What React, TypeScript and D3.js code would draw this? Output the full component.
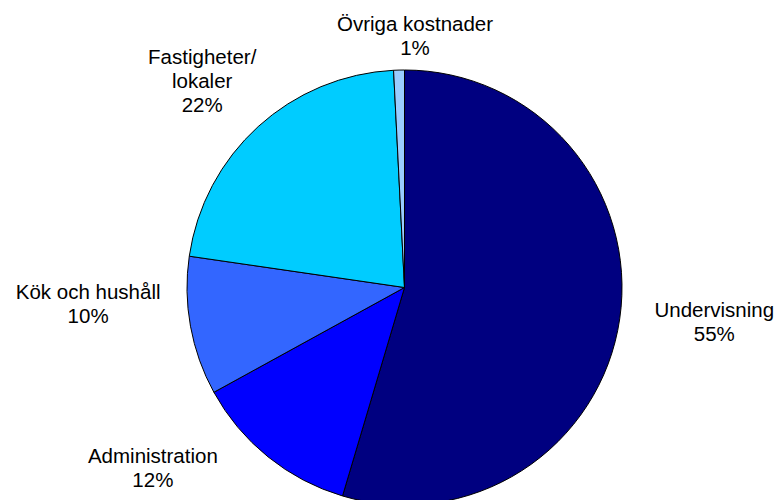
import { useEffect, useRef } from 'react';
import * as d3 from 'd3';

const categories = ['Undervisning', 'Administration', 'Kök och hushåll', 'Fastigheter/\nlokaler', 'Övriga kostnader'];
const shares = [54.6, 12.4, 10.3, 21.9, 0.8];
const sliceColors = ['#000080', '#0000ff', '#3366ff', '#00ccff', '#99ccff'];
// Excel's label boxes don't sit exactly on the mid-angle, nudge them a bit
const labelNudge: [number, number][] = [[55, -3], [-90, -20], [-63, -30], [-29, -16], [17, 6]];

const WIDTH = 779;
const HEIGHT = 500;

export default function App() {
  const svgRef = useRef<SVGSVGElement>(null);

  useEffect(() => {
    const svg = svgRef.current;
    if (!svg) return;

    const cx = 404.5;
    const cy = 287.5;
    const radius = 217.5;
    const labelRadius = radius + 40;
    const fontSize = 20.5;
    const lineGap = 24;
    const capHeight = fontSize * 0.716;

    const sel = d3.select(svg);
    sel.selectAll('*').remove();

    const pie = d3.pie<number>().sort(null).value((d) => d);
    const arcs = pie(shares);
    const arc = d3.arc<d3.PieArcDatum<number>>().innerRadius(0).outerRadius(radius);

    const g = sel.append('g').attr('transform', `translate(${cx},${cy})`);

    g.selectAll('path')
      .data(arcs)
      .join('path')
      .attr('d', arc)
      .attr('fill', (_, i) => sliceColors[i])
      .attr('stroke', '#000')
      .attr('stroke-width', 1)
      .attr('stroke-linejoin', 'round');

    arcs.forEach((a, i) => {
      const mid = (a.startAngle + a.endAngle) / 2;
      const px = Math.sin(mid) * labelRadius + labelNudge[i][0];
      const py = -Math.cos(mid) * labelRadius + labelNudge[i][1];
      const lines = [...categories[i].split('\n'), `${Math.round(a.data)}%`];
      const blockH = capHeight + (lines.length - 1) * lineGap;
      const firstBase = py - blockH / 2 + capHeight;

      const text = g.append('text')
        .attr('text-anchor', 'middle')
        .attr('font-family', '"Liberation Sans", Arial, sans-serif')
        .attr('font-size', fontSize)
        .attr('fill', '#000');

      lines.forEach((line, j) => {
        text.append('tspan')
          .attr('x', px)
          .attr('y', firstBase + j * lineGap)
          .text(line);
      });
    });
  }, []);

  return (
    <div style={{ position: 'fixed', left: 0, top: 0, width: WIDTH, height: HEIGHT, background: '#fff', overflow: 'hidden' }}>
      <svg ref={svgRef} width={WIDTH} height={HEIGHT} style={{ display: 'block' }} />
    </div>
  );
}
